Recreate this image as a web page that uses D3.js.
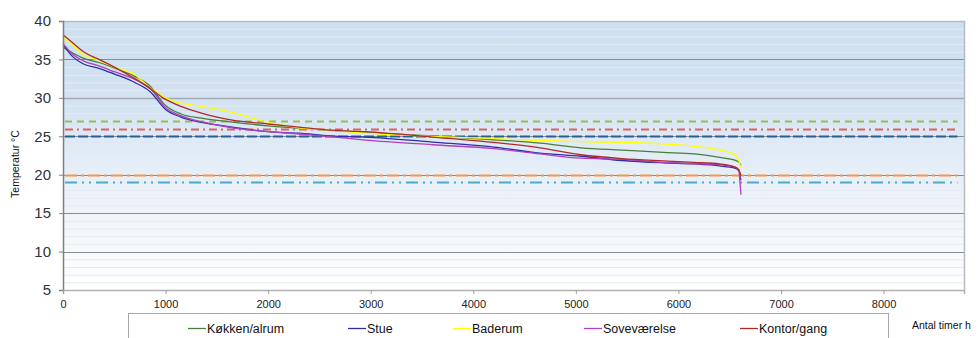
<!DOCTYPE html>
<html>
<head>
<meta charset="utf-8">
<script src="https://cdn.jsdelivr.net/npm/d3@7"></script>
<style>
  html, body { margin: 0; padding: 0; background: #ffffff; }
  svg { display: block; font-family: "Liberation Sans", Arial, sans-serif; }
</style>
</head>
<body>
<svg id="chart" width="979" height="338"></svg>
<script>
// Hours of the year (duration curve, sorted from warmest hour)
const hours = [0, 100, 200, 350, 500, 700, 850, 1000, 1150, 1350, 1650, 2000, 2300, 2600, 2950, 3600, 4200, 4650, 5050, 5450, 5850, 6150, 6400, 6550, 6590, 6600, 6610];

const kokken  = [36.6, 35.8, 35.15, 34.6, 33.9, 32.8, 31.5, 29.0, 27.9, 27.35, 26.85, 26.35, 26.05, 25.8, 25.5, 25.05, 24.55, 24.1, 23.5, 23.2, 22.9, 22.7, 22.25, 21.9, 21.6, 21.4, 21.2];
const stue    = [36.9, 35.3, 34.4, 33.85, 33.1, 32.0, 30.8, 28.5, 27.5, 26.8, 26.2, 25.6, 25.4, 25.05, 24.9, 24.25, 23.6, 22.8, 22.4, 21.85, 21.55, 21.4, 21.15, 20.85, 20.5, 19.8, 19.3];
const baderum = [37.9, 36.8, 35.6, 34.9, 34.0, 33.0, 31.3, 30.0, 29.3, 28.9, 28.1, 26.8, 26.1, 25.8, 25.4, 25.0, 24.7, 24.45, 24.3, 24.2, 24.0, 23.7, 23.2, 22.6, 21.8, 21.3, 21.0];
const sove    = [37.1, 35.6, 34.8, 34.15, 33.4, 32.4, 31.25, 28.7, 27.65, 26.9, 26.1, 25.6, 25.3, 24.95, 24.5, 23.9, 23.4, 22.7, 22.15, 22.0, 21.6, 21.45, 21.3, 21.0, 20.6, 19.0, 17.4];
const kontor  = [38.2, 37.1, 36.0, 35.0, 34.0, 32.5, 31.2, 29.8, 28.9, 28.0, 27.1, 26.6, 26.2, 25.8, 25.6, 24.9, 24.2, 23.5, 22.6, 22.1, 21.8, 21.6, 21.4, 21.0, 20.6, 20.3, 19.9];

const seriesNames  = ["Køkken/alrum", "Stue", "Baderum", "Soveværelse", "Kontor/gang"];
const seriesValues = [kokken, stue, baderum, sove, kontor];
const seriesColors = ["#4a7d3e", "#2e2ea8", "#ffff00", "#b040c0", "#b02a2a"];

// Horizontal limit lines (°C)
const limitValues = [27, 26, 25, 20, 19];
const limitColors = ["#9bbb59", "#d9625e", "#2b5c95", "#f79646", "#4bacc6"];
const limitDashes = ["7,5", "8,4,2,4", "10,3", "12,4,3,4", "12,5,2,5,2,5"];

const yTicks = [5, 10, 15, 20, 25, 30, 35, 40];
const xTicks = [0, 1000, 2000, 3000, 4000, 5000, 6000, 7000, 8000];

const svg = d3.select("#chart");
const m = { left: 63, top: 21, right: 964, bottom: 290 };

const x = d3.scaleLinear().domain([0, 8784]).range([m.left, m.right]);
const y = d3.scaleLinear().domain([5, 40]).range([m.bottom, m.top]);

// Plot background gradient
const defs = svg.append("defs");
const grad = defs.append("linearGradient").attr("id", "bg")
  .attr("x1", 0).attr("y1", 0).attr("x2", 0).attr("y2", 1);
grad.append("stop").attr("offset", "0").attr("stop-color", "#cddff0");
grad.append("stop").attr("offset", "0.28").attr("stop-color", "#d2e2f2");
grad.append("stop").attr("offset", "0.6").attr("stop-color", "#e9f0f8");
grad.append("stop").attr("offset", "1").attr("stop-color", "#ffffff");

svg.append("rect")
  .attr("x", m.left).attr("y", m.top)
  .attr("width", m.right - m.left).attr("height", m.bottom - m.top)
  .attr("fill", "url(#bg)");

// Minor grid every 1 °C
const minor = d3.range(6, 40).filter(v => v % 5 !== 0);
svg.append("g").selectAll("line").data(minor).join("line")
  .attr("x1", m.left).attr("x2", m.right)
  .attr("y1", d => y(d) + 0.5).attr("y2", d => y(d) + 0.5)
  .attr("stroke", "#e3ebf4").attr("stroke-width", 1);

// Major grid
svg.append("g").selectAll("line").data(yTicks.filter(v => v > 5 && v < 40)).join("line")
  .attr("x1", m.left).attr("x2", m.right)
  .attr("y1", d => Math.round(y(d)) + 0.5).attr("y2", d => Math.round(y(d)) + 0.5)
  .attr("stroke", d => d === 30 ? "#a6a9ad" : "#888c90")
  .attr("stroke-width", d => d === 30 ? 1.5 : 1);

// Plot frame (top and right)
svg.append("path")
  .attr("d", `M${m.left},${m.top + 0.5}H${m.right + 0.5}V${m.bottom}`)
  .attr("fill", "none").attr("stroke", "#b8bcc0").attr("stroke-width", 1.5);

// Limit lines
svg.append("g").selectAll("line").data(limitValues).join("line")
  .attr("x1", x(0) + 2).attr("x2", x(8720))
  .attr("y1", d => Math.round(y(d)) + 0.5).attr("y2", d => Math.round(y(d)) + 0.5)
  .attr("stroke", (d, i) => limitColors[i])
  .attr("stroke-width", 2)
  .attr("stroke-dasharray", (d, i) => limitDashes[i]);

// Temperature curves
const line = d3.line().x((d, i) => x(hours[i])).y(d => y(d)).curve(d3.curveMonotoneX);
svg.append("g").selectAll("path").data(seriesValues).join("path")
  .attr("d", d => line(d))
  .attr("fill", "none")
  .attr("stroke", (d, i) => seriesColors[i])
  .attr("stroke-width", 1.3)
  .attr("stroke-linejoin", "round");

// Axes
const yAxis = d3.axisLeft(y).tickValues(yTicks).tickSize(4).tickPadding(8);
const gy = svg.append("g").attr("transform", `translate(${m.left},0)`).call(yAxis);
gy.select(".domain").attr("stroke", "#808080").attr("stroke-width", 1.5);
gy.selectAll(".tick line").attr("stroke", "#808080");
gy.selectAll(".tick text").attr("font-size", 15).attr("fill", "#333")
  .attr("font-family", "Liberation Sans, Arial, sans-serif");

const xAxis = d3.axisBottom(x).tickValues(xTicks).tickSize(4).tickPadding(6).tickFormat(d3.format("d"));
const gx = svg.append("g").attr("transform", `translate(0,${m.bottom})`).call(xAxis);
gx.select(".domain").attr("stroke", "#b0b0b0").attr("stroke-width", 1.5);
gx.selectAll(".tick line").attr("stroke", "#a0a0a0");
gx.selectAll(".tick text").attr("font-size", 11).attr("fill", "#222")
  .attr("font-family", "Liberation Sans, Arial, sans-serif");

// Axis titles
svg.append("text")
  .attr("transform", "translate(19,164) rotate(-90)")
  .attr("text-anchor", "middle")
  .attr("font-size", 10.5).attr("fill", "#111")
  .text("Temperatur °C");

svg.append("text")
  .attr("x", 912).attr("y", 329)
  .attr("font-size", 10.5).attr("fill", "#111")
  .text("Antal timer h");

// Legend
svg.append("rect")
  .attr("x", 128.5).attr("y", 313.5).attr("width", 760).attr("height", 40)
  .attr("fill", "#ffffff").attr("stroke", "#a8a8a8").attr("stroke-width", 1);

const legendX = [188, 348, 453, 584, 740];
const lg = svg.append("g").selectAll("g").data(seriesNames).join("g")
  .attr("transform", (d, i) => `translate(${legendX[i]},0)`);
lg.append("line")
  .attr("x1", 0).attr("x2", 18).attr("y1", 328.5).attr("y2", 328.5)
  .attr("stroke", (d, i) => seriesColors[i]).attr("stroke-width", 1.3);
lg.append("text")
  .attr("x", 19).attr("y", 333)
  .attr("font-size", 12.5).attr("fill", "#111")
  .text(d => d);
</script>
</body>
</html>
